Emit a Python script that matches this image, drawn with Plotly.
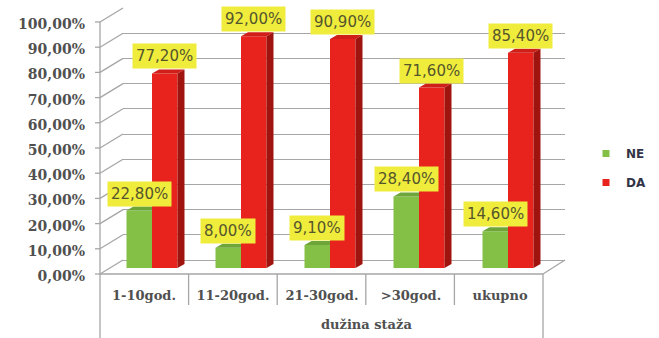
import plotly.graph_objects as go

# ---- data -------------------------------------------------------------
categories = ["1-10god.", "11-20god.", "21-30god.", ">30god.", "ukupno"]
ne_values = [22.8, 8.0, 9.1, 28.4, 14.6]
da_values = [77.2, 92.0, 90.9, 71.6, 85.4]
y_tick_values = [0, 10, 20, 30, 40, 50, 60, 70, 80, 90, 100]
y_tick_text = ["0,00%", "10,00%", "20,00%", "30,00%", "40,00%", "50,00%",
               "60,00%", "70,00%", "80,00%", "90,00%", "100,00%"]
group_title = "dužina staža"

# ---- geometry (pixels of a 659 x 338 canvas) -------------------------
W, H = 659, 338
FRONT_X, BACK_X = 100, 123          # left edge of floor: front / back
FRONT_R, BACK_R = 543, 565          # right edge of floor: front / back
FRONT_Y0, BACK_Y0 = 274, 260        # 0 % level at front / back
PX_PER_UNIT = 2.52                  # pixels per percentage point
BAR_Y0 = 268                        # 0 % level of the columns
CAT_W = 89                          # pixel width of one category
BAR_CENTER0 = 152                   # pixel centre of the first column pair

def px(x):
    return x / W

def py(y):
    return 1 - y / H

# depth of a column, in data units
FACE_W = 25.5 / CAT_W
DEPTH_DX = 7 / CAT_W
DEPTH_DY = 4 / PX_PER_UNIT

GREEN, GREEN_TOP = "#84c046", "#6ea539"
RED, RED_TOP, RED_SIDE = "#e8221c", "#d01e18", "#a0140f"
GRID = "#a6a6a6"
LABEL_BG = "#efec3c"
LABEL_FG = "#55552c"
AXIS_FONT = dict(family="DejaVu Serif", size=13, color="#505050", weight="bold")
VALUE_AXIS_FONT = dict(family="DejaVu Serif", size=14, color="#505050", weight="bold")

fig = go.Figure()

# back wall: carries the horizontal grid
fig.add_trace(go.Scatter(x=[0], y=[0], mode="markers", marker=dict(opacity=0),
                         showlegend=False, hoverinfo="skip", xaxis="x", yaxis="y"))

idx = list(range(len(categories)))

def faces(values, offset, color_top, color_side, side_visible):
    """Top (and side) faces of 3-D columns as filled polygons."""
    xs_top, ys_top, xs_side, ys_side = [], [], [], []
    for i, v in zip(idx, values):
        xl = i + offset
        xr = xl + FACE_W
        if side_visible:
            xs_top += [xl, xr, xr + DEPTH_DX, xl + DEPTH_DX, xl, None]
            ys_top += [v, v, v + DEPTH_DY, v + DEPTH_DY, v, None]
            xs_side += [xr, xr, xr + DEPTH_DX, xr + DEPTH_DX, xr, None]
            ys_side += [0, v, v + DEPTH_DY, DEPTH_DY, 0, None]
        else:
            xs_top += [xl, xr, xr, xl + DEPTH_DX, xl, None]
            ys_top += [v, v, v + DEPTH_DY, v + DEPTH_DY, v, None]
    out = [go.Scatter(x=xs_top, y=ys_top, fill="toself", fillcolor=color_top,
                      mode="lines", line=dict(width=0), showlegend=False,
                      hoverinfo="skip", xaxis="x2", yaxis="y2")]
    if side_visible:
        out.append(go.Scatter(x=xs_side, y=ys_side, fill="toself", fillcolor=color_side,
                              mode="lines", line=dict(width=0), showlegend=False,
                              hoverinfo="skip", xaxis="x2", yaxis="y2"))
    return out

# front faces of the columns
fig.add_trace(go.Bar(x=idx, y=ne_values, name="NE", marker=dict(color=GREEN, line=dict(width=0)),
                     width=FACE_W, offset=-FACE_W, showlegend=False, xaxis="x2", yaxis="y2"))
fig.add_trace(go.Bar(x=idx, y=da_values, name="DA", marker=dict(color=RED, line=dict(width=0)),
                     width=FACE_W, offset=0, showlegend=False, xaxis="x2", yaxis="y2"))
for tr in faces(ne_values, -FACE_W, GREEN_TOP, None, False):
    fig.add_trace(tr)
for tr in faces(da_values, 0, RED_TOP, RED_SIDE, True):
    fig.add_trace(tr)

# legend entries
for name, color, grp in [("NE", GREEN, "a"), ("DA", RED, "b")]:
    fig.add_trace(go.Scatter(x=[None], y=[None], mode="markers", name=name,
                             marker=dict(symbol="square", size=7, color=color),
                             legendgroup=grp, xaxis="x2", yaxis="y2"))

# front value axis (percentage labels)
fig.add_trace(go.Scatter(x=[0], y=[0], mode="markers", marker=dict(opacity=0),
                         showlegend=False, hoverinfo="skip", xaxis="x3", yaxis="y3"))

# data labels
annotations = []
for values, offset in [(ne_values, -FACE_W), (da_values, 0)]:
    for i, v in zip(idx, values):
        annotations.append(dict(
            x=i + offset + FACE_W / 2, y=v + DEPTH_DY, xref="x2", yref="y2",
            text=f"{v:.2f}".replace(".", ",") + "%", showarrow=False,
            yanchor="bottom", bgcolor=LABEL_BG, borderpad=3,
            font=dict(family="DejaVu Sans", size=15, color=LABEL_FG)))
annotations.append(dict(
    x=px(366), y=py(324), xref="paper", yref="paper", text=group_title,
    xanchor="center", yanchor="middle", showarrow=False, font=AXIS_FONT))

# wall / floor outlines and category separators
shapes = []
def seg(x0, y0, x1, y1, color=GRID, width=1.3):
    shapes.append(dict(type="line", xref="paper", yref="paper", layer="below",
                       x0=px(x0), y0=py(y0), x1=px(x1), y1=py(y1),
                       line=dict(color=color, width=width)))

for v in y_tick_values:
    seg(FRONT_X - 5, FRONT_Y0 - PX_PER_UNIT * v, FRONT_X, FRONT_Y0 - PX_PER_UNIT * v)
    seg(FRONT_X, FRONT_Y0 - PX_PER_UNIT * v, BACK_X, BACK_Y0 - PX_PER_UNIT * v)
seg(FRONT_X, FRONT_Y0 - PX_PER_UNIT * 100, FRONT_X, H)
seg(FRONT_X, FRONT_Y0, FRONT_R, FRONT_Y0)
seg(FRONT_R, FRONT_Y0, BACK_R, BACK_Y0)
seg(FRONT_R, FRONT_Y0, FRONT_R, H)
for k in range(1, len(categories)):
    xs = FRONT_X + (FRONT_R - FRONT_X) * k / len(categories)
    seg(xs, FRONT_Y0, xs, 305)

x2_left = BAR_CENTER0 - CAT_W / 2
x2_right = x2_left + CAT_W * len(categories)

fig.update_layout(
    width=W, height=H, autosize=False,
    margin=dict(l=0, r=0, t=0, b=0, pad=0),
    paper_bgcolor="white", plot_bgcolor="rgba(0,0,0,0)",
    barmode="overlay",
    xaxis=dict(domain=[px(BACK_X), px(BACK_R)], range=[0, 1], visible=False,
               automargin=False),
    yaxis=dict(domain=[py(BACK_Y0), py(BACK_Y0 - PX_PER_UNIT * 100)], range=[0, 100],
               tickmode="array", tickvals=y_tick_values,
               showgrid=True, gridcolor=GRID, gridwidth=1.3,
               zeroline=True, zerolinecolor=GRID, zerolinewidth=1.3,
               showline=False, ticks="", showticklabels=False, automargin=False),
    xaxis2=dict(domain=[px(x2_left), px(x2_right)], range=[-0.5, len(categories) - 0.5],
                anchor="y2", tickmode="array", tickvals=idx, ticktext=categories,
                showgrid=False, zeroline=False, showline=False, ticks="",
                tickfont=AXIS_FONT, automargin=False,
                ticklabelshift=-round(BAR_CENTER0 - (FRONT_X + CAT_W / 2)),
                ticklabelstandoff=18),
    yaxis2=dict(domain=[py(BAR_Y0), py(BAR_Y0 - PX_PER_UNIT * 100)], range=[0, 100],
                anchor="x2", visible=False, automargin=False),
    xaxis3=dict(domain=[px(FRONT_X), px(FRONT_R)], range=[0, 1], visible=False,
                anchor="y3", automargin=False),
    yaxis3=dict(domain=[py(FRONT_Y0), py(FRONT_Y0 - PX_PER_UNIT * 100)], range=[0, 100],
                anchor="x3", tickmode="array", tickvals=y_tick_values,
                ticktext=y_tick_text, showgrid=False, zeroline=False, showline=False,
                ticks="", tickfont=VALUE_AXIS_FONT, ticklabelstandoff=14,
                ticklabelshift=2, automargin=False),
    legend=dict(x=px(586), y=py(139), xanchor="left", yanchor="top",
                font=dict(family="DejaVu Sans", size=12, color="#333347", weight="bold"),
                tracegroupgap=10, itemwidth=30, bgcolor="rgba(0,0,0,0)"),
    showlegend=True,
    annotations=annotations,
    shapes=shapes,
)

fig.write_html("out.html")
